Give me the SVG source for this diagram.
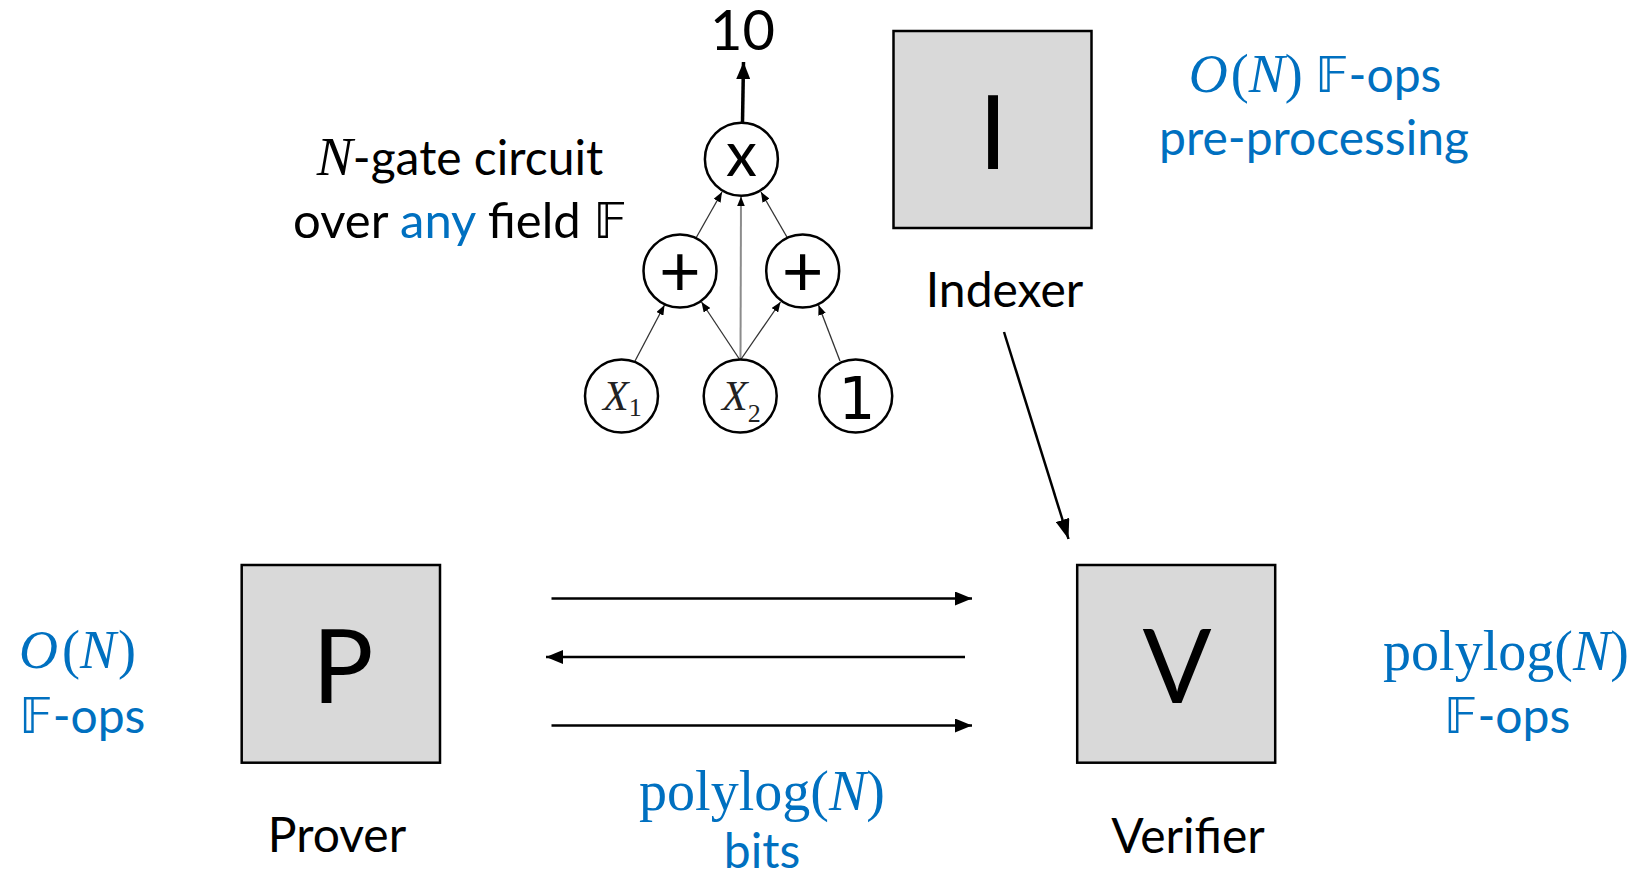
<svg xmlns="http://www.w3.org/2000/svg" width="1642" height="878" viewBox="0 0 1642 878">
  <style>
    .txt { font-family: Lato, "Open Sans", sans-serif; font-size: 48px; fill: #000; }
    .blue { fill: #0070C0; }
    .mi { font-family: "Liberation Serif", "DejaVu Serif", serif; font-style: italic; }
    .mo { font-family: "Liberation Serif", "DejaVu Serif", serif; }
    .ds { font-family: "DejaVu Sans", "DejaVu Serif", sans-serif; }
    .box { fill: #d9d9d9; stroke: #000; stroke-width: 2.5; }
    .big { font-family: Lato, "Open Sans", sans-serif; font-size: 102px; text-anchor: middle; }
    .gate { fill: #fff; stroke: #000; stroke-width: 2.5; }
    .conn { stroke: #000; stroke-width: 2.5; fill: none; }
    .wire { stroke: #333; stroke-width: 1.3; fill: none; }
    .var { font-family: "Liberation Serif", "DejaVu Serif", serif; font-size: 42px; fill: #222; }
  </style>
  <defs>
    <marker id="head" viewBox="0 0 17 14" refX="17" refY="7" markerWidth="17" markerHeight="14" markerUnits="userSpaceOnUse" orient="auto">
      <path d="M0,0 L17,7 L0,14 Z" fill="#000"/>
    </marker>
    <marker id="head-long" viewBox="0 0 20 14" refX="20" refY="7" markerWidth="20" markerHeight="14" markerUnits="userSpaceOnUse" orient="auto">
      <path d="M0,0 L20,7 L0,14 Z" fill="#000"/>
    </marker>
    <marker id="head-small" viewBox="0 0 10 8" refX="10" refY="4" markerWidth="10" markerHeight="8" markerUnits="userSpaceOnUse" orient="auto">
      <path d="M0,0 L10,4 L0,8 Z" fill="#000"/>
    </marker>
  </defs>

  <rect width="1642" height="878" fill="#fff"/>

  <!-- connectors -->
  <g id="connectors">
    <!-- circuit wires -->
    <line class="wire" x1="635" y1="361" x2="664.5" y2="305" marker-end="url(#head-small)"/>
    <line class="wire" x1="740" y1="360" x2="701.5" y2="302" marker-end="url(#head-small)"/>
    <line x1="740.5" y1="360" x2="741" y2="196.5" stroke="#8c8c8c" stroke-width="2" marker-end="url(#head-small)"/>
    <line class="wire" x1="740.5" y1="360" x2="780.5" y2="302" marker-end="url(#head-small)"/>
    <line class="wire" x1="840" y1="361" x2="818.5" y2="305" marker-end="url(#head-small)"/>
    <line class="wire" x1="696" y1="238" x2="722" y2="192" marker-end="url(#head-small)"/>
    <line class="wire" x1="787.5" y1="238" x2="761" y2="192" marker-end="url(#head-small)"/>
    <!-- circuit output -->
    <line x1="742.5" y1="122" x2="743.5" y2="62" stroke="#000" stroke-width="3.5" marker-end="url(#head)"/>
    <!-- indexer to verifier -->
    <line class="conn" x1="1004" y1="332" x2="1068.5" y2="539" marker-end="url(#head-long)"/>
    <!-- prover / verifier interaction -->
    <line class="conn" x1="551.5" y1="598.5" x2="972" y2="598.5" marker-end="url(#head)"/>
    <line class="conn" x1="965" y1="657" x2="546" y2="657" marker-end="url(#head)"/>
    <line class="conn" x1="551.5" y1="725.5" x2="972" y2="725.5" marker-end="url(#head)"/>
  </g>

  <!-- arithmetic circuit -->
  <g id="circuit-label">
    <text class="txt" x="460" y="175" text-anchor="middle"><tspan class="mi" font-size="54">N</tspan>-gate circuit</text>
    <text class="txt" x="460" y="238" text-anchor="middle" style="font-size:49px">over <tspan class="blue">any</tspan> field <tspan class="ds" font-size="50">𝔽</tspan></text>
  </g>
  <g id="output-value">
    <text class="txt" x="742.5" y="50" text-anchor="middle" style="font-size:56px">10</text>
  </g>
  <g id="gate-mul">
    <circle class="gate" cx="741.4" cy="159.3" r="36.5"/>
    <text class="txt" x="741.4" y="176" text-anchor="middle" style="font-size:62px">x</text>
  </g>
  <g id="gate-add-left">
    <circle class="gate" cx="680" cy="271" r="36.5"/>
    <text x="680" y="296" text-anchor="middle" font-family="Lato, sans-serif" font-size="72">+</text>
  </g>
  <g id="gate-add-right">
    <circle class="gate" cx="802.7" cy="271" r="36.5"/>
    <text x="802.7" y="296" text-anchor="middle" font-family="Lato, sans-serif" font-size="72">+</text>
  </g>
  <g id="input-x1">
    <circle class="gate" cx="621.5" cy="396" r="36.5"/>
    <text class="var" x="603" y="410"><tspan font-style="italic">X</tspan><tspan font-size="26" dy="6">1</tspan></text>
  </g>
  <g id="input-x2">
    <circle class="gate" cx="740.2" cy="396" r="36.5"/>
    <text class="var" x="722" y="410"><tspan font-style="italic">X</tspan><tspan font-size="26" dy="12">2</tspan></text>
  </g>
  <g id="input-one">
    <circle class="gate" cx="855.7" cy="396" r="36.5"/>
    <text x="857" y="419" text-anchor="middle" font-family="DejaVu Sans, sans-serif" font-size="58">1</text>
  </g>

  <!-- indexer -->
  <g id="indexer">
    <rect class="box" x="893.5" y="31" width="198" height="197"/>
    <text class="big" x="993" y="169">I</text>
    <text class="txt" x="1004.5" y="307" text-anchor="middle">Indexer</text>
  </g>
  <g id="indexer-cost">
    <text class="txt blue" x="1315" y="92" text-anchor="middle"><tspan class="mi" font-size="54">O</tspan><tspan class="mo" font-size="54" dx="3">(</tspan><tspan class="mi" font-size="54">N</tspan><tspan class="mo" font-size="54">)</tspan> <tspan class="ds" font-size="50">𝔽</tspan>-ops</text>
    <text class="txt blue" x="1314" y="155" text-anchor="middle">pre-processing</text>
  </g>

  <!-- prover -->
  <g id="prover">
    <rect class="box" x="241.7" y="565" width="198.3" height="197.7"/>
    <text class="big" x="343" y="703">P</text>
    <text class="txt" x="337" y="852" text-anchor="middle">Prover</text>
  </g>
  <g id="prover-cost">
    <text class="txt blue" x="19" y="668"><tspan class="mi" font-size="54">O</tspan><tspan class="mo" font-size="54" dx="4">(</tspan><tspan class="mi" font-size="54">N</tspan><tspan class="mo" font-size="54" dx="2">)</tspan></text>
    <text class="txt blue" x="19" y="733"><tspan class="ds" font-size="50">𝔽</tspan>-ops</text>
  </g>

  <!-- communication -->
  <g id="proof-size">
    <text class="txt blue" x="762" y="810" text-anchor="middle"><tspan class="mo" font-size="56">polylog(</tspan><tspan class="mi" font-size="56">N</tspan><tspan class="mo" font-size="56">)</tspan></text>
    <text class="txt blue" x="762" y="868" text-anchor="middle">bits</text>
  </g>

  <!-- verifier -->
  <g id="verifier">
    <rect class="box" x="1077.2" y="565" width="198" height="197.7"/>
    <text class="big" x="1177" y="703">V</text>
    <text class="txt" x="1188" y="853" text-anchor="middle">Verifier</text>
  </g>
  <g id="verifier-cost">
    <text class="txt blue" x="1506" y="670" text-anchor="middle"><tspan class="mo" font-size="56">polylog(</tspan><tspan class="mi" font-size="56">N</tspan><tspan class="mo" font-size="56">)</tspan></text>
    <text class="txt blue" x="1507" y="733" text-anchor="middle"><tspan class="ds" font-size="50">𝔽</tspan>-ops</text>
  </g>
</svg>
